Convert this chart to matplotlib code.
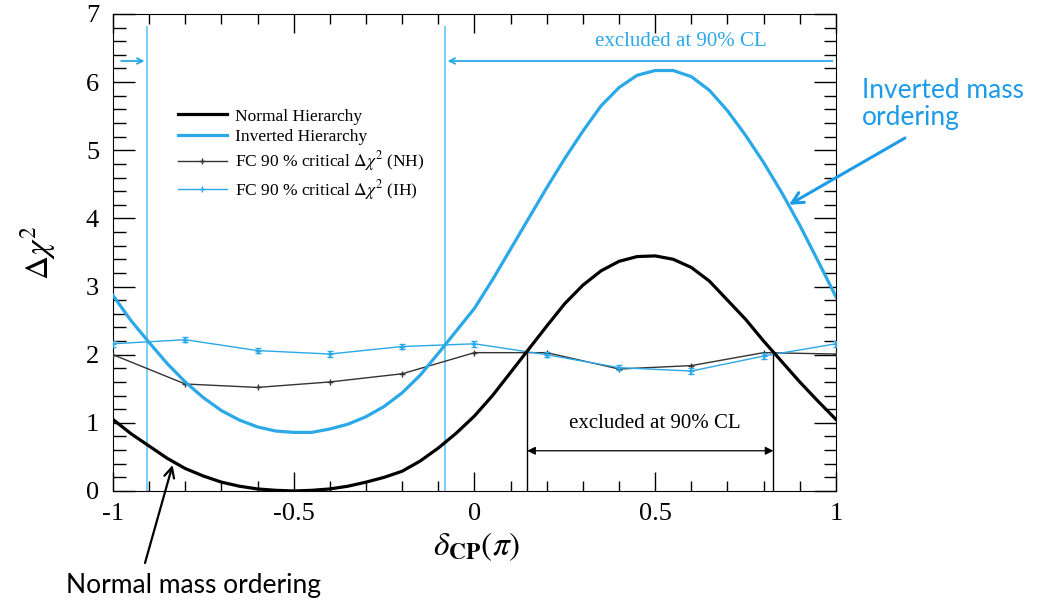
import matplotlib
matplotlib.use("Agg")
import matplotlib.pyplot as plt
from matplotlib.ticker import MultipleLocator, FuncFormatter

plt.rcParams["font.family"] = ["Liberation Serif", "DejaVu Serif"]
plt.rcParams["mathtext.fontset"] = "stix"

# delta_CP in units of pi
delta = [-1.0, -0.95, -0.9, -0.85, -0.8, -0.75, -0.7, -0.65, -0.6, -0.55,
         -0.5, -0.45, -0.4, -0.35, -0.3, -0.25, -0.2, -0.15, -0.1, -0.05,
         0.0, 0.05, 0.1, 0.15, 0.2, 0.25, 0.3, 0.35, 0.4, 0.45,
         0.5, 0.55, 0.6, 0.65, 0.7, 0.75, 0.8, 0.85, 0.9, 0.95, 1.0]
chi2_nh = [1.05, 0.84, 0.66, 0.48, 0.33, 0.22, 0.13, 0.07, 0.03, 0.01,
           0.0, 0.01, 0.03, 0.07, 0.13, 0.20, 0.29, 0.44, 0.63, 0.85,
           1.10, 1.40, 1.74, 2.08, 2.42, 2.75, 3.02, 3.23, 3.37, 3.44,
           3.45, 3.40, 3.28, 3.08, 2.80, 2.52, 2.20, 1.90, 1.60, 1.32, 1.05]
chi2_ih = [2.87, 2.50, 2.18, 1.87, 1.60, 1.37, 1.18, 1.04, 0.94, 0.88,
           0.86, 0.86, 0.91, 0.98, 1.09, 1.24, 1.44, 1.70, 2.02, 2.35,
           2.68, 3.10, 3.55, 4.00, 4.45, 4.88, 5.28, 5.65, 5.92, 6.10,
           6.17, 6.17, 6.08, 5.88, 5.58, 5.22, 4.82, 4.38, 3.90, 3.38, 2.85]

# Feldman-Cousins critical values
delta_fc = [-1.0, -0.8, -0.6, -0.4, -0.2, 0.0, 0.2, 0.4, 0.6, 0.8, 1.0]
fc_nh = [2.00, 1.57, 1.52, 1.60, 1.72, 2.03, 2.03, 1.79, 1.84, 2.03, 2.01]
fc_ih = [2.16, 2.22, 2.06, 2.01, 2.12, 2.16, 2.00, 1.81, 1.76, 1.98, 2.16]
fc_ih_err = [0.04, 0.04, 0.04, 0.04, 0.04, 0.04, 0.04, 0.04, 0.04, 0.04, 0.04]

# excluded region boundaries
ih_bounds = [-0.905, -0.082]
nh_bounds = [0.146, 0.827]
fc_level = 2.03
band_y = 6.31
nh_band_y = 0.59

cyan = "#2aa8e8"
cyan_light = "#6fcaf2"
note_blue = "#1e9be8"

fig = plt.figure(figsize=(10.41, 6.02), dpi=100)
ax = fig.add_axes([0.1085, 0.1844, 0.6945, 0.7924])

ax.plot(delta, chi2_nh, color="black", lw=2.3, label="Normal Hierarchy", zorder=4)
ax.plot(delta, chi2_ih, color=cyan, lw=2.3, label="Inverted Hierarchy", zorder=4)
ax.plot(delta_fc, fc_nh, color="#333333", lw=1.0, marker="+", ms=4, mew=1.0,
        label=r"FC 90 % critical $\Delta\chi^2$ (NH)", zorder=3)
ax.plot(delta_fc, fc_ih, color=cyan, lw=1.0, marker="+", ms=4, mew=1.0,
        label=r"FC 90 % critical $\Delta\chi^2$ (IH)", zorder=3)
ax.errorbar(delta_fc, fc_ih, yerr=fc_ih_err, fmt="none", ecolor=cyan,
            capsize=2.5, elinewidth=1.2, zorder=3)

# IH exclusion markers
ax.vlines(ih_bounds, 0, 6.82, color=cyan_light, lw=1.3)
ax.annotate("", xy=(ih_bounds[0], band_y), xytext=(-0.985, band_y),
            arrowprops=dict(arrowstyle="->", color=cyan, lw=1.3))
ax.annotate("", xy=(ih_bounds[1], band_y), xytext=(0.998, band_y),
            arrowprops=dict(arrowstyle="->", color=cyan, lw=1.3))
ax.text(0.572, 6.6, "excluded at 90% CL", color=cyan, fontsize=15,
        ha="center", va="center")

# NH exclusion markers
ax.vlines(nh_bounds, 0, fc_level, color="black", lw=1.0)
ax.annotate("", xy=(nh_bounds[0], nh_band_y), xytext=(nh_bounds[1], nh_band_y),
            arrowprops=dict(arrowstyle="<|-|>", color="black", lw=0.9,
                            mutation_scale=12, shrinkA=0, shrinkB=0))
ax.text(0.5, 0.99, "excluded at 90% CL", color="black", fontsize=15,
        ha="center", va="center")

ax.set_xlim(-1, 1)
ax.set_ylim(0, 7)
ax.xaxis.set_major_locator(MultipleLocator(0.5))
ax.xaxis.set_minor_locator(MultipleLocator(0.1))
ax.xaxis.set_major_formatter(FuncFormatter(lambda v, p: "%g" % v))
ax.yaxis.set_major_locator(MultipleLocator(1))
ax.yaxis.set_minor_locator(MultipleLocator(0.2))
ax.tick_params(which="both", direction="in", top=True, right=True,
               labelsize=19, width=1.0)
ax.tick_params(axis="x", which="major", length=14, pad=9)
ax.tick_params(axis="x", which="minor", length=7)
ax.tick_params(axis="y", which="major", length=16, pad=10)
ax.tick_params(axis="y", which="minor", length=9)

ax.set_xlabel(r"$\delta_{\mathbf{CP}}(\pi)$", fontsize=24)
ax.set_ylabel(r"$\Delta\chi^2$", fontsize=24)
ax.xaxis.set_label_coords(0.503, -0.082)
ax.yaxis.set_label_coords(-0.076, 0.5)

ax.legend(loc="upper left", bbox_to_anchor=(0.09, 0.802), frameon=False,
          fontsize=12.5, handlelength=2.8, handletextpad=0.5,
          labelspacing=0.25, borderpad=0, borderaxespad=0)

# outer annotations
fig.text(862, 524, "Inverted mass\nordering", transform=None, color=note_blue,
         fontsize=19, family="Lato", va="top", ha="left", linespacing=1.1)
ax.annotate("", xy=(0.87, 4.2), xytext=(905, 464), textcoords="figure pixels",
            annotation_clip=False,
            arrowprops=dict(arrowstyle="->", color=note_blue, lw=2.2,
                            mutation_scale=20, shrinkA=0, shrinkB=0))
fig.text(66, 9, "Normal mass ordering", transform=None, color="black",
         fontsize=19, family="Lato", va="baseline", ha="left")
ax.annotate("", xy=(-0.835, 0.38), xytext=(145, 39), textcoords="figure pixels",
            annotation_clip=False,
            arrowprops=dict(arrowstyle="->", color="black", lw=1.6,
                            mutation_scale=18, shrinkA=0, shrinkB=0))

fig.savefig("out.png", dpi=100)
